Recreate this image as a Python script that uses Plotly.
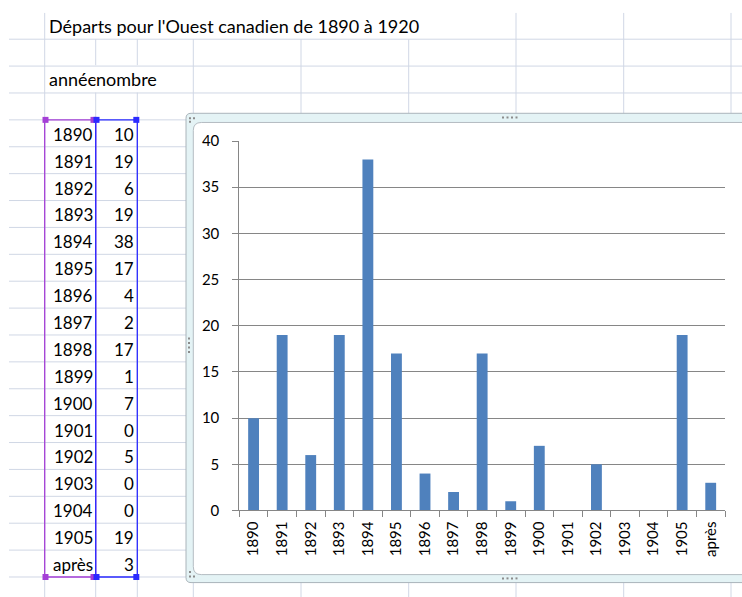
import plotly.graph_objects as go

# ---------------- data ----------------
title_text = "Départs pour l'Ouest canadien de 1890 à 1920"
header_year = "année"
header_count = "nombre"
categories = ["1890", "1891", "1892", "1893", "1894", "1895", "1896", "1897",
              "1898", "1899", "1900", "1901", "1902", "1903", "1904", "1905", "après"]
values = [10, 19, 6, 19, 38, 17, 4, 2, 17, 1, 7, 0, 5, 0, 0, 19, 3]

# ---------------- geometry helpers ----------------
W, H = 742, 597
# the photographed page shows the figure slightly squeezed vertically:
# shown_y = A + B * figure_y ; compensate so elements land where the reference has them
A, B = 8.06, 0.9713


def px(x):
    return x / W


def py(y):
    return 1 - ((y - A) / B) / H


FONT = "Lato, 'Open Sans', sans-serif"
GRID = "#d0d7e5"
shapes = []


def line(x0, y0, x1, y1, color, width=1):
    shapes.append(dict(type="line", xref="paper", yref="paper",
                       x0=px(x0), y0=py(y0), x1=px(x1), y1=py(y1),
                       line=dict(color=color, width=width), layer="below"))


def rect(x0, y0, x1, y1, fill, color=None, width=0):
    shapes.append(dict(type="rect", xref="paper", yref="paper",
                       x0=px(x0), y0=py(y0), x1=px(x1), y1=py(y1),
                       fillcolor=fill, line=dict(color=color or fill, width=width),
                       layer="below"))


def rounded_left(x0, y0, x1, y1, r, fill, color, width=1):
    p = (f"M {px(x0 + r)},{py(y0)} L {px(x1)},{py(y0)} L {px(x1)},{py(y1)} "
         f"L {px(x0 + r)},{py(y1)} Q {px(x0)},{py(y1)} {px(x0)},{py(y1 - r)} "
         f"L {px(x0)},{py(y0 + r)} Q {px(x0)},{py(y0)} {px(x0 + r)},{py(y0)} Z")
    shapes.append(dict(type="path", xref="paper", yref="paper", path=p,
                       fillcolor=fill, line=dict(color=color, width=width),
                       layer="below"))


# ---------------- spreadsheet grid ----------------
row_top, row_h = 37.3, 26.93
n_rows = 21
for k in range(n_rows):
    y = row_top + row_h * k
    line(9, y, W, y, GRID)

y_bottom = 610
line(44.7, 11, 44.7, y_bottom, GRID)
for x in (95.7, 137.3):
    line(x, 37.3, x, 63.3, GRID)
    line(x, 90.7, x, y_bottom, GRID)
for x in (193.3, 301.0, 408.7):
    line(x, 37.3, x, y_bottom, GRID)
for x in (516.0, 623.7, 731.0):
    line(x, 11, x, y_bottom, GRID)

# table selection borders
t_top = row_top + row_h * 3
t_bot = row_top + row_h * 20
PURPLE, BLUE = "#a43fd6", "#2b2bff"
shapes.append(dict(type="rect", xref="paper", yref="paper",
                   x0=px(44.7), y0=py(t_top), x1=px(95.7), y1=py(t_bot),
                   line=dict(color=PURPLE, width=1.3), layer="below"))
shapes.append(dict(type="rect", xref="paper", yref="paper",
                   x0=px(95.7), y0=py(t_top), x1=px(137.3), y1=py(t_bot),
                   line=dict(color=BLUE, width=1.3), layer="below"))
for (cx, cy, c) in [(45.5, t_top, PURPLE), (93.5, t_top, PURPLE), (96.5, t_top, BLUE),
                    (136.3, t_top, BLUE), (45.5, t_bot, PURPLE), (93.5, t_bot, PURPLE),
                    (96.5, t_bot, BLUE), (136.3, t_bot, BLUE)]:
    rect(cx - 3, cy - 3, cx + 3, cy + 3, c)

# ---------------- chart frame ----------------
rounded_left(186, 111.5, 760, 581.5, 5, "#e4f3f5", "#aab4ba", 1)
rounded_left(193.3, 120.7, 760, 573.5, 8, "#ffffff", "#b4bcc2", 1)
DOT = "#8c8c8c"
for (dx, dy) in [(190, 116.5), (194, 116.5), (190, 120), (190, 571), (190, 575.5), (194, 575.5)]:
    rect(dx - 1, dy - 1, dx + 1, dy + 1, DOT)
for i in range(4):
    rect(503 + 4.5 * i - 1, 115.7 - 1, 503 + 4.5 * i + 1, 115.7 + 1, DOT)
    rect(503 + 4.5 * i - 1, 577.3 - 1, 503 + 4.5 * i + 1, 577.3 + 1, DOT)
    rect(189 - 1, 337 + 4.5 * i - 1, 189 + 1, 337 + 4.5 * i + 1, DOT)

# ---------------- annotations (sheet text) ----------------
annotations = []
annotations.append(dict(text=title_text, xref="paper", yref="paper", x=px(47), y=py(24),
                        xanchor="left", yanchor="middle", showarrow=False,
                        font=dict(family=FONT, size=18, color="#000000")))
annotations.append(dict(text=header_year, xref="paper", yref="paper", x=px(47), y=py(77.5),
                        xanchor="left", yanchor="middle", showarrow=False,
                        font=dict(family=FONT, size=18, color="#000000")))
annotations.append(dict(text=header_count, xref="paper", yref="paper", x=px(95.2), y=py(77.5),
                        xanchor="left", yanchor="middle", showarrow=False, bgcolor="#ffffff",
                        borderpad=0,
                        font=dict(family=FONT, size=18, color="#000000")))
for i, (cat, val) in enumerate(zip(categories, values)):
    yc = t_top + row_h * (i + 0.5) + 1
    annotations.append(dict(text=cat, xref="paper", yref="paper", x=px(94.5), y=py(yc),
                            xanchor="right", yanchor="middle", showarrow=False,
                            font=dict(family=FONT, size=17, color="#000000")))
    annotations.append(dict(text=str(val), xref="paper", yref="paper", x=px(136), y=py(yc),
                            xanchor="right", yanchor="middle", showarrow=False,
                            font=dict(family=FONT, size=17, color="#000000")))

# ---------------- chart ----------------
fig = go.Figure(go.Bar(x=categories, y=values, marker=dict(color="#4f81bd", line=dict(width=0)),
                       hoverinfo="x+y"))

AX = "#868686"
fig.update_layout(
    width=W, height=H,
    margin=dict(l=0, r=0, t=0, b=0),
    paper_bgcolor="#ffffff",
    plot_bgcolor="rgba(0,0,0,0)",
    showlegend=False,
    bargap=0.62,
    shapes=shapes,
    annotations=annotations,
    xaxis=dict(
        type="category",
        domain=[px(239.3), px(725)],
        showgrid=False,
        showline=True, linecolor=AX, linewidth=1,
        ticks="outside", tickson="boundaries", ticklen=6, tickcolor=AX,
        tickangle=-90, ticklabelstandoff=4,
        tickfont=dict(family=FONT, size=15, color="#000000"),
        fixedrange=True,
    ),
    yaxis=dict(
        domain=[py(509.3), py(139.3)],
        range=[0, 40], dtick=5,
        showgrid=True, gridcolor=AX, gridwidth=1,
        zeroline=False,
        showline=True, linecolor=AX, linewidth=1,
        ticks="outside", ticklen=6, tickcolor=AX, ticklabelstandoff=10,
        tickfont=dict(family=FONT, size=15, color="#000000"),
        fixedrange=True,
    ),
)

post = (
    "document.documentElement.style.margin='0';"
    "document.documentElement.style.overflow='hidden';"
    "document.body.style.margin='0';document.body.style.padding='0';"
    "document.body.style.overflow='hidden';"
    "var d=document.getElementById('{plot_id}');"
    "d.style.position='fixed';d.style.top='0px';d.style.left='0px';"
)
fig.write_html("out.html", config={"displayModeBar": False}, post_script=post)
